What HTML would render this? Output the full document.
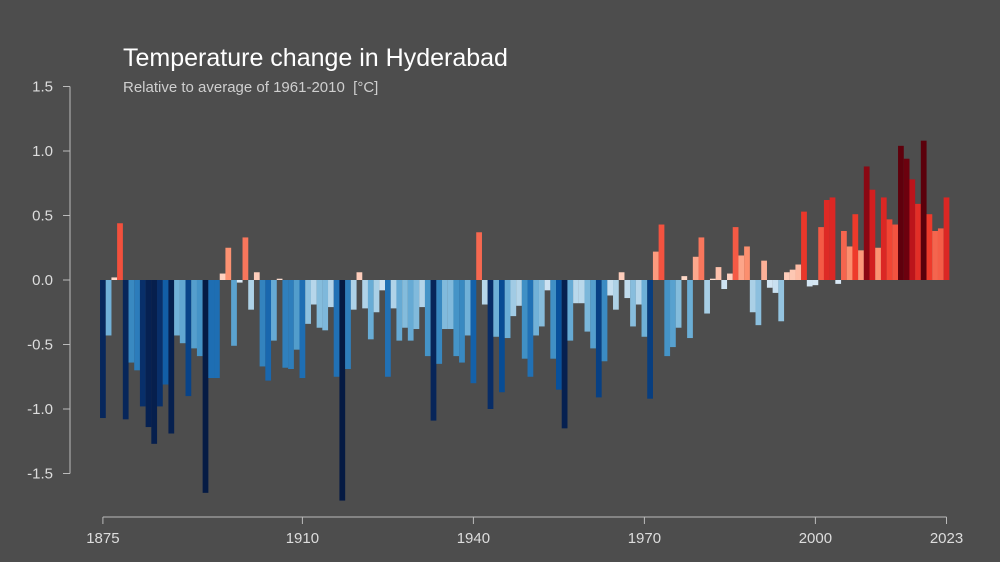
<!DOCTYPE html>
<html><head><meta charset="utf-8"><style>
html,body{margin:0;padding:0;background:#4d4d4d;}
svg{display:block;font-family:"Liberation Sans",sans-serif;}
</style></head><body>
<svg id="chart" width="1000" height="562">
<rect width="1000" height="562" fill="#4d4d4d"/>
<text x="123" y="66" font-size="25" fill="#ffffff">Temperature change in Hyderabad</text>
<text x="123" y="92" font-size="15" fill="#cfcfcf" xml:space="preserve" style="white-space:pre">Relative to average of 1961-2010  [°C]</text>
<g id="yaxis"></g>
<g id="xaxis"></g>
<g id="bars"></g>
</svg>
<script>
const startYear = 1875;
const values = [
-1.07,-0.43,0.02,0.44,-1.08,-0.64,-0.70,-0.98,-1.14,-1.27,
-0.98,-0.81,-1.19,-0.43,-0.49,-0.90,-0.53,-0.59,-1.65,-0.76,
-0.76,0.05,0.25,-0.51,-0.02,0.33,-0.23,0.06,-0.67,-0.78,
-0.47,0.01,-0.68,-0.69,-0.54,-0.76,-0.34,-0.19,-0.37,-0.39,
-0.21,-0.75,-1.71,-0.69,-0.23,0.06,-0.22,-0.46,-0.25,-0.08,
-0.75,-0.22,-0.47,-0.37,-0.47,-0.38,-0.21,-0.59,-1.09,-0.65,
-0.38,-0.38,-0.59,-0.64,-0.43,-0.80,0.37,-0.19,-1.00,-0.44,
-0.87,-0.45,-0.28,-0.20,-0.61,-0.75,-0.43,-0.36,-0.08,-0.61,
-0.85,-1.15,-0.47,-0.18,-0.18,-0.40,-0.53,-0.91,-0.63,-0.12,
-0.23,0.06,-0.14,-0.36,-0.19,-0.44,-0.92,0.22,0.43,-0.59,
-0.52,-0.37,0.03,-0.45,0.18,0.33,-0.26,0.01,0.10,-0.07,
0.05,0.41,0.19,0.26,-0.25,-0.35,0.15,-0.06,-0.10,-0.32,
0.06,0.08,0.12,0.53,-0.05,-0.04,0.41,0.62,0.64,-0.03,
0.38,0.26,0.51,0.23,0.88,0.70,0.25,0.64,0.47,0.43,
1.04,0.94,0.78,0.59,1.08,0.51,0.38,0.40,0.64];
const yTicks = [1.5,1.0,0.5,0.0,-0.5,-1.0,-1.5];
const yTickLabels = ["1.5","1.0","0.5","0.0","-0.5","-1.0","-1.5"];
const xTicks = [1875,1910,1940,1970,2000,2023];

const NS="http://www.w3.org/2000/svg";
const y = v => 280 - v*129;
const x = yr => 102.9 + (yr-startYear)*5.7;
const bw = 5.75;

const blues=[[0,[222,235,247]],[0.25,[170,208,230]],[0.45,[107,174,214]],[0.6,[66,146,198]],[0.75,[33,113,181]],[0.85,[8,81,156]],[0.97,[8,48,107]],[1.15,[6,32,80]],[1.8,[5,25,65]]];
const reds=[[0,[254,224,210]],[0.25,[252,146,114]],[0.5,[239,59,44]],[0.75,[203,24,29]],[0.95,[103,0,13]],[1.2,[80,0,10]]];
function interp(stops,t){
  if(t<=stops[0][0]) return stops[0][1];
  for(let i=1;i<stops.length;i++){
    if(t<=stops[i][0]){const a=stops[i-1],b=stops[i];const f=(t-a[0])/(b[0]-a[0]);
      return a[1].map((c,j)=>Math.round(c+(b[1][j]-c)*f));}
  }
  return stops[stops.length-1][1];
}
function color(v){const c=v<0?interp(blues,-v):interp(reds,v);return `rgb(${c[0]},${c[1]},${c[2]})`;}

const ya=document.getElementById('yaxis');
let l=document.createElementNS(NS,'line');
l.setAttribute('x1',70);l.setAttribute('x2',70);l.setAttribute('y1',y(1.5));l.setAttribute('y2',y(-1.5));
l.setAttribute('stroke','#bbb');l.setAttribute('stroke-width',1);


ya.appendChild(l);
yTicks.forEach((t,i)=>{
  const tk=document.createElementNS(NS,'line');
  tk.setAttribute('x1',63);tk.setAttribute('x2',70);tk.setAttribute('y1',y(t));tk.setAttribute('y2',y(t));
  tk.setAttribute('stroke','#bbb');
  
  
  ya.appendChild(tk);
  const tx=document.createElementNS(NS,'text');
  tx.setAttribute('x',53);tx.setAttribute('y',y(t)+5);tx.setAttribute('text-anchor','end');
  tx.setAttribute('font-size',15);tx.setAttribute('fill','#dddddd');tx.textContent=yTickLabels[i];
  
  
  ya.appendChild(tx);
});
const xa=document.getElementById('xaxis');
l=document.createElementNS(NS,'line');
l.setAttribute('x1',x(1875));l.setAttribute('x2',x(2023));l.setAttribute('y1',517);l.setAttribute('y2',517);
l.setAttribute('stroke','#bbb');


xa.appendChild(l);
xTicks.forEach(t=>{
  const tk=document.createElementNS(NS,'line');
  tk.setAttribute('x1',x(t));tk.setAttribute('x2',x(t));tk.setAttribute('y1',517);tk.setAttribute('y2',524);
  tk.setAttribute('stroke','#bbb');
  
  
  xa.appendChild(tk);
  const tx=document.createElementNS(NS,'text');
  tx.setAttribute('x',x(t));tx.setAttribute('y',543);tx.setAttribute('text-anchor','middle');
  tx.setAttribute('font-size',15);tx.setAttribute('fill','#dddddd');tx.textContent=t;
  
  
  xa.appendChild(tx);
});
const bars=document.getElementById('bars');
values.forEach((v,i)=>{
  const r=document.createElementNS(NS,'rect');
  const yr=startYear+i;
  r.setAttribute('x',x(yr)-bw/2);r.setAttribute('width',bw);
  r.setAttribute('y',Math.min(y(v),y(0)));r.setAttribute('height',Math.max(Math.abs(y(v)-y(0)),0.5));
  r.setAttribute('fill',color(v));
  
  
  bars.appendChild(r);
});
</script>
</body></html>
